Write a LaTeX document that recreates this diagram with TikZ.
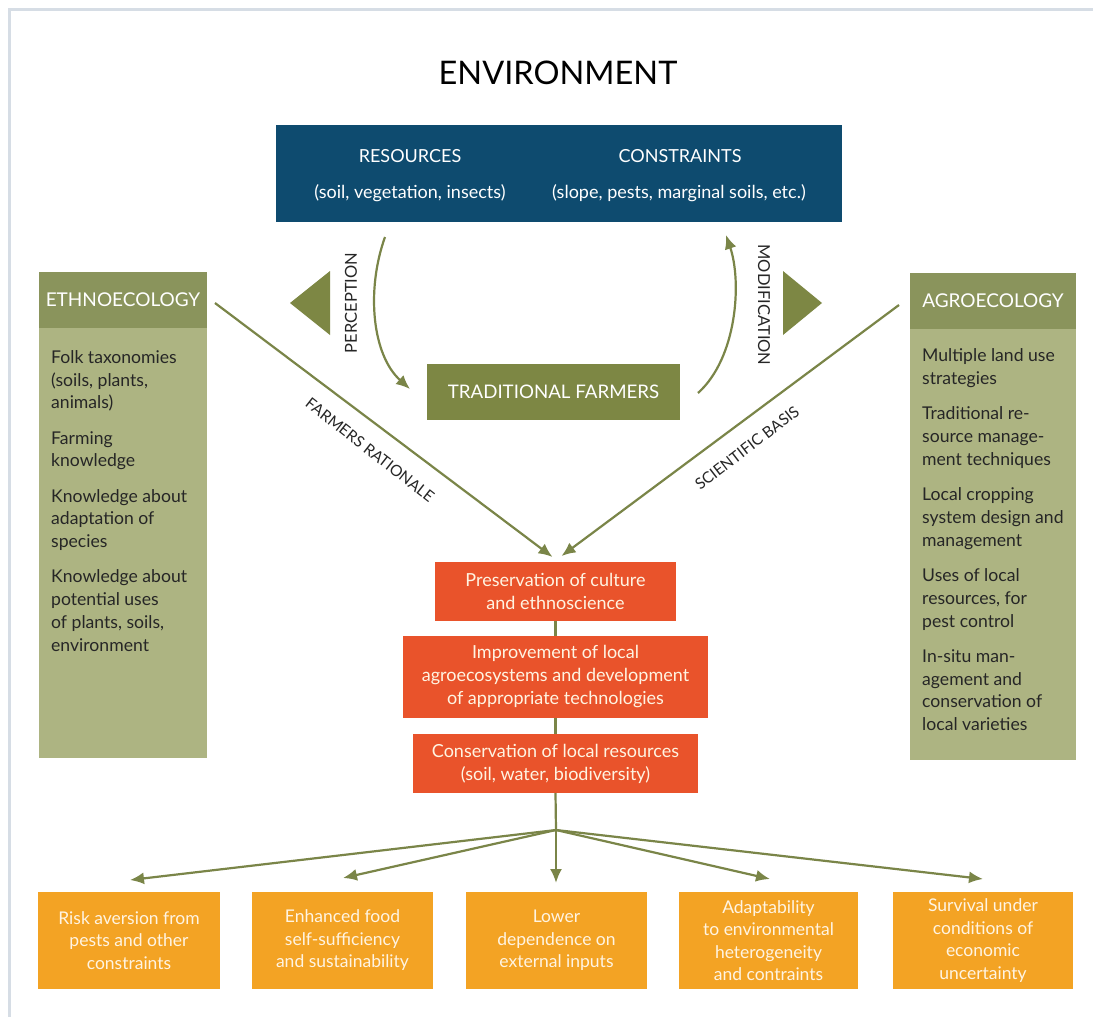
\documentclass[tikz,border=0pt]{standalone}
\usepackage{fontspec}
\setmainfont{Lato}
\usetikzlibrary{arrows.meta,calc}
\definecolor{framecol}{HTML}{D6DDE5}
\definecolor{bluebox}{HTML}{0E4B6F}
\definecolor{olivehead}{HTML}{8A945C}
\definecolor{olivebody}{HTML}{ADB482}
\definecolor{olivedark}{HTML}{7D8744}
\definecolor{linegreen}{HTML}{7A8548}
\definecolor{redbox}{HTML}{E9532B}
\definecolor{amberbox}{HTML}{F3A324}
\definecolor{creamtext}{HTML}{FFF4E2}
\begin{document}
\begin{tikzpicture}[x=1pt,y=-1pt,
  boxbase/.style={rectangle,inner sep=0pt,outer sep=0pt,draw=none},
  wtext/.style={text=white,font=\fontsize{18}{22}\selectfont,inner sep=0pt},
  headbox/.style={boxbase,fill=olivehead,text=white,font=\fontsize{19}{22}\selectfont,minimum height=56},
  bodytext/.style={anchor=north west,align=left,inner sep=0pt,text=black!85,font=\fontsize{17.6}{22.85}\selectfont},
  redstyle/.style={boxbase,fill=redbox,text=creamtext,align=center,font=\fontsize{18}{23}\selectfont},
  amberstyle/.style={boxbase,fill=amberbox,text=creamtext,align=center,font=\fontsize{17.5}{22.5}\selectfont,minimum height=97},
  conn/.style={draw=linegreen,line width=2.2pt},
  arr/.style={conn,-{Latex[length=14,width=12]}},
  lbl/.style={inner sep=0pt,text=black!85,font=\fontsize{15.5}{18}\selectfont},
  vlbl/.style={inner sep=0pt,text=black!85,font=\fontsize{16.5}{18}\selectfont}
]
\useasboundingbox (0,0) rectangle (1093,1017);
\fill[white] (0,0) rectangle (1093,1017);
\draw[framecol,line width=3pt] (9,1017) -- (9,9) -- (1093,9);

% title
\node[inner sep=0pt,font=\fontsize{32.5}{36}\selectfont] (env) at (558,73) {ENVIRONMENT};

% environment box
\node[boxbase,fill=bluebox,minimum width=566,minimum height=97] (top) at (559,173.5) {};
\node[wtext] (res) at (410,156) {RESOURCES};
\node[wtext] (resx) at (410,193) {(soil, vegetation, insects)};
\node[wtext] (con) at (680,156) {CONSTRAINTS};
\node[wtext] (conx) at (679,193) {(slope, pests, marginal soils, etc.)};

% traditional farmers
\node[boxbase,fill=olivedark,text=white,minimum width=253,minimum height=56,font=\fontsize{18.7}{22}\selectfont] (tf) at (553.5,392) {TRADITIONAL FARMERS};

% triangles
\fill[olivedark] (290,303) -- (330,271) -- (330,335) -- cycle;
\fill[olivedark] (822,303) -- (783,271) -- (783,335) -- cycle;

% perception / modification
\coordinate (pstart) at (385,237);
\draw[arr] (pstart) .. controls (366,290) and (372,355) .. ($(tf.west)+(-17,-3)$);
\coordinate (mend) at (726,235);
\draw[arr] ($(tf.east)+(18,1)$) .. controls (737,358) and (742,282) .. (mend);
\node[vlbl,rotate=90] (perc) at (351,303) {PERCEPTION};
\node[vlbl,rotate=-90] (modif) at (764,305) {MODIFICATION};

% ethnoecology
\node[boxbase,fill=olivebody,minimum width=168,minimum height=486] (eth) at (123,515) {};
\node[headbox,minimum width=168] (ethh) at (123,300) {ETHNOECOLOGY};
\node[bodytext] (etht) at (51,350) {Folk taxonomies\\(soils, plants,\\animals)\\[12.3pt]
Farming\\knowledge\\[12.3pt]
Knowledge about\\adaptation of\\species\\[12.3pt]
Knowledge about\\potential uses\\of plants, soils,\\environment};

% agroecology
\node[boxbase,fill=olivebody,minimum width=166,minimum height=487] (agr) at (993,516.5) {};
\node[headbox,minimum width=166] (agh) at (993,301) {AGROECOLOGY};
\node[bodytext] (agt) at (922,348.5) {Multiple land use\\strategies\\[12.3pt]
Traditional re-\\source manage-\\ment techniques\\[12.3pt]
Local cropping\\system design and\\management\\[12.3pt]
Uses of local\\resources, for\\pest control\\[12.3pt]
In-situ man-\\agement and\\conservation of\\local varieties};

% central red boxes
\node[redstyle,minimum width=241,minimum height=59] (p1) at (555.5,591.5) {Preservation of culture\\and ethnoscience};
\node[redstyle,minimum width=305,minimum height=82] (p2) at (555.5,677) {Improvement of local\\agroecosystems and development\\of appropriate technologies};
\node[redstyle,minimum width=285,minimum height=59] (p3) at (555.5,763.5) {Conservation of local resources\\(soil, water, biodiversity)};

% side arrows into p1
\draw[arr] ($(ethh.east)+(8,3)$) -- ($(p1.north)+(-3,-5)$);
\draw[arr] ($(agh.west)+(-11,4)$) -- ($(p1.north)+(6,-6)$);
\node[lbl,rotate=-38] (fr) at (370,450) {FARMERS RATIONALE};
\node[lbl,rotate=37.5] (sb) at (747,448) {SCIENTIFIC BASIS};

% vertical chain
\coordinate (hub) at (556,830);
\draw[conn] (p1.south) -- (p2.north);
\draw[conn] (p2.south) -- (p3.north);
\draw[conn] (p3.south) -- (hub);

% bottom boxes
\node[amberstyle,minimum width=182] (b1) at (129,940.5) {Risk aversion from\\pests and other\\constraints};
\node[amberstyle,minimum width=181] (b2) at (342.5,940.5) {Enhanced food\\self-sufficiency\\and sustainability};
\node[amberstyle,minimum width=181] (b3) at (556.5,940.5) {Lower\\dependence on\\external inputs};
\node[amberstyle,minimum width=179] (b4) at (768.5,940.5) {Adaptability\\to environmental\\heterogeneity\\and contraints};
\node[amberstyle,minimum width=180] (b5) at (983,940.5) {Survival under\\conditions of\\economic\\uncertainty};

\draw[arr] (hub) -- ($(b1.north)+(1,-12)$);
\draw[arr] (hub) -- ($(b2.north)+(0.5,-14)$);
\draw[arr] (hub) -- ($(b3.north)+(-0.5,-9)$);
\draw[arr] (hub) -- ($(b4.north)+(1.5,-13)$);
\draw[arr] (hub) -- ($(b5.north)+(0,-13)$);
\end{tikzpicture}
\end{document}
